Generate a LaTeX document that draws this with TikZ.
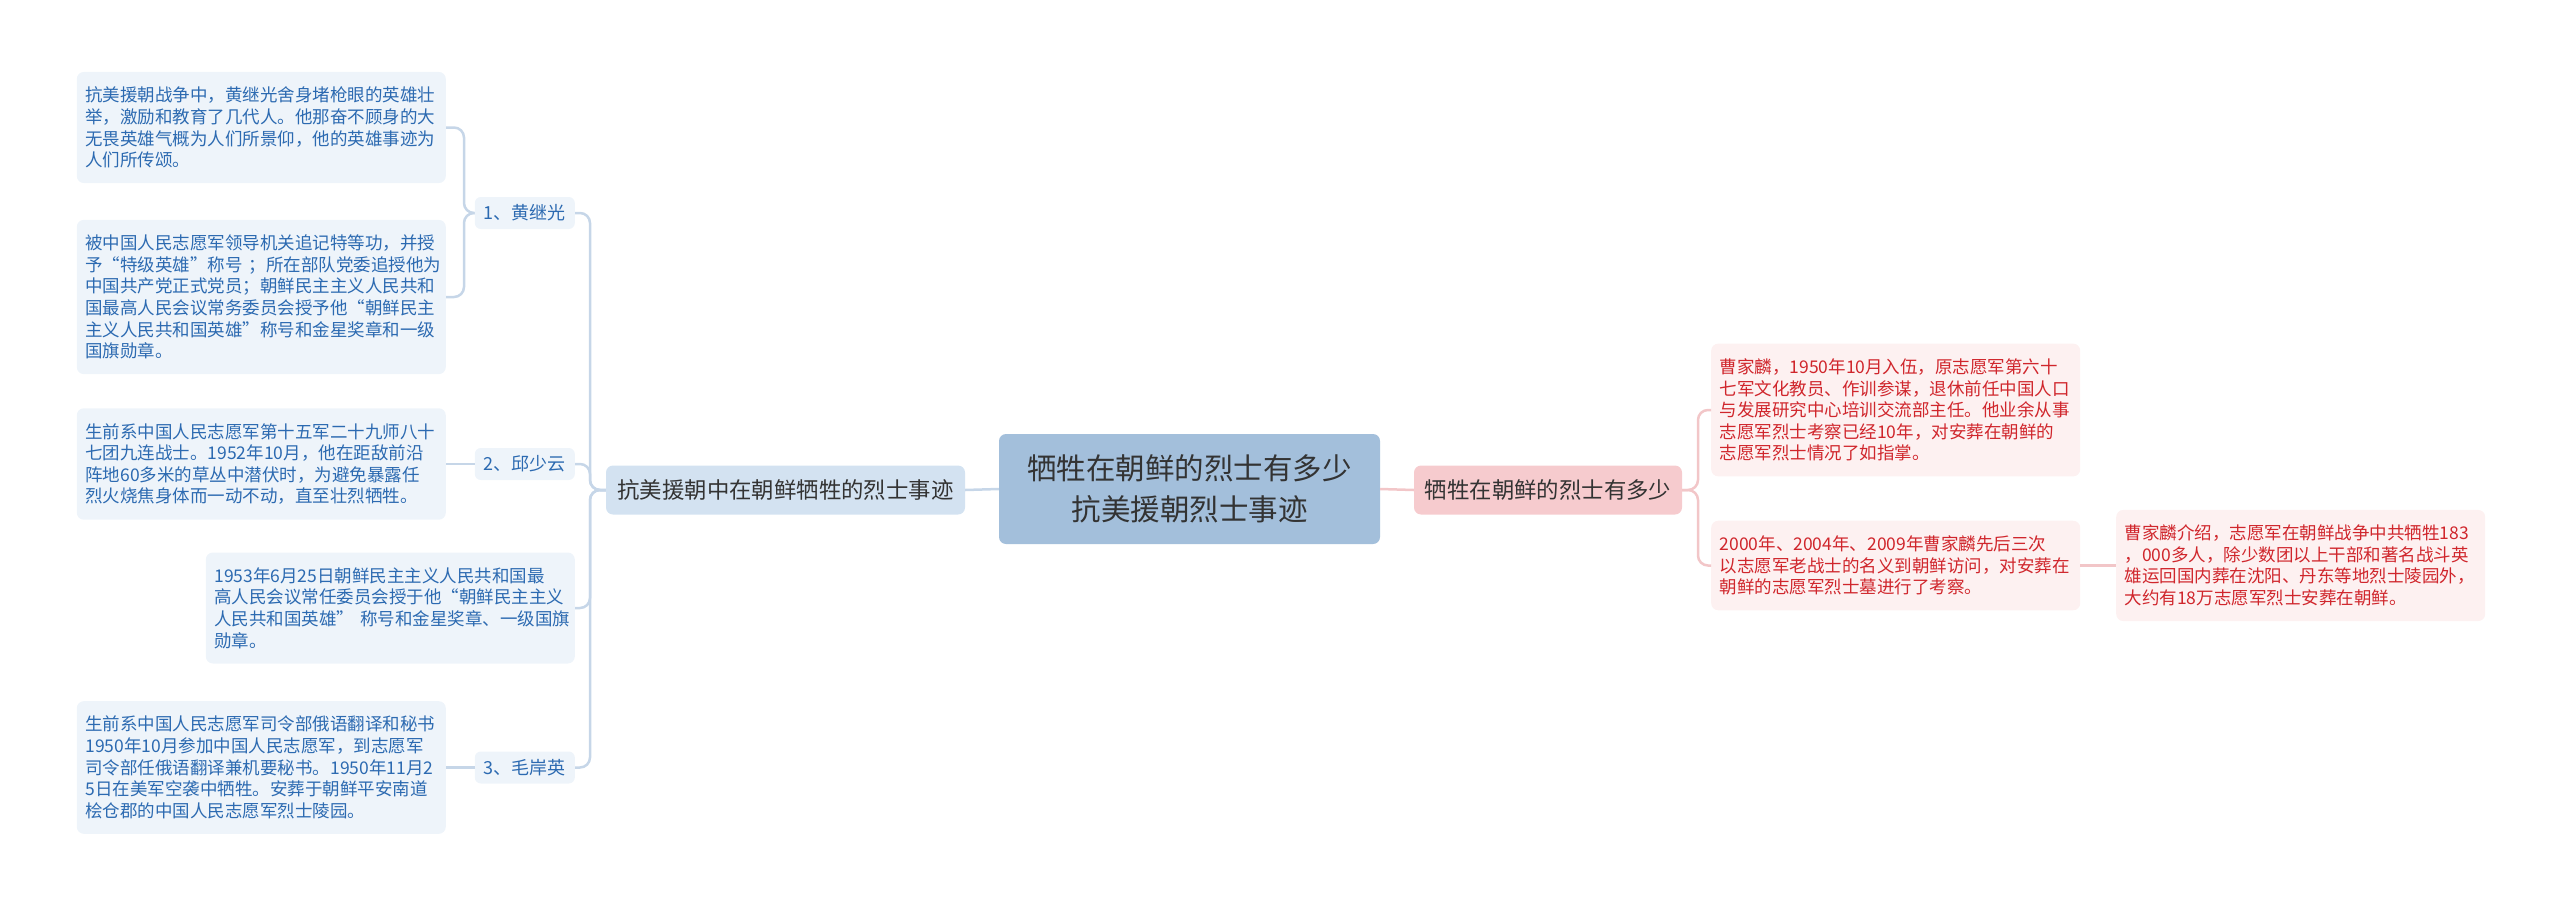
\documentclass[tikz,border=0pt]{standalone}
\usepackage{fontspec}
\setmainfont{Noto Sans CJK SC}
\definecolor{centerfill}{HTML}{A3BFDB}
\definecolor{blfill}{HTML}{D3E2F1}
\definecolor{subfill}{HTML}{EEF4FA}
\definecolor{bluetext}{HTML}{2C6AB1}
\definecolor{blueline}{HTML}{C6D6E8}
\definecolor{brfill}{HTML}{F6CBCE}
\definecolor{redfill}{HTML}{FDF1F1}
\definecolor{redtext}{HTML}{D0262C}
\definecolor{redline}{HTML}{F2C6C8}
\definecolor{darktext}{HTML}{333333}
\begin{document}
\begin{tikzpicture}[x=1pt,y=-1pt,
  every node/.style={inner sep=0pt},
  centerbox/.style={fill=centerfill, rounded corners=7pt, minimum width=381pt, minimum height=110pt, align=center, text=darktext, font=\fontsize{29.5}{41}\selectfont},
  branchbox/.style={rounded corners=7pt, minimum height=49pt, align=center, text=darktext, font=\fontsize{22.4}{28}\selectfont},
  subbox/.style={fill=subfill, rounded corners=6pt, minimum width=100pt, minimum height=32pt, text=bluetext, font=\fontsize{18}{22}\selectfont},
  leafbox/.style={rounded corners=7pt, text width=352pt, inner xsep=8.5pt, inner ysep=15pt, align=left, font=\fontsize{17.5}{21.6}\selectfont},
  leafL/.style={leafbox, fill=subfill, text=bluetext},
  leafR/.style={leafbox, fill=redfill, text=redtext},
  lineL/.style={draw=blueline, line width=2.5pt, rounded corners=10pt},
  lineR/.style={draw=redline, line width=2.5pt, rounded corners=10pt}]
\useasboundingbox (0,0) rectangle (2560,907);

% center and branches
\node[centerbox] (c) at (1189.5,489) {牺牲在朝鲜的烈士有多少\\抗美援朝烈士事迹};
\node[branchbox, fill=blfill, minimum width=359pt] (bl) at (785.5,490) {抗美援朝中在朝鲜牺牲的烈士事迹};
\node[branchbox, fill=brfill, minimum width=268pt] (br) at (1548,490) {牺牲在朝鲜的烈士有多少};

% left level 2
\node[subbox, anchor=east] (h) at (575,213) {1、黄继光};
\node[subbox, anchor=east] (q) at (575,464) {2、邱少云};
\node[subbox, anchor=east] (m) at (575,767.5) {3、毛岸英};

% left leaves
\node[leafL, anchor=east] (h1) at (446,127.5) {抗美援朝战争中，黄继光舍身堵枪眼的英雄壮\\举，激励和教育了几代人。他那奋不顾身的大\\无畏英雄气概为人们所景仰，他的英雄事迹为\\人们所传颂。};
\node[leafL, anchor=east] (h2) at (446,297) {被中国人民志愿军领导机关追记特等功，并授\\予“特级英雄”称号~；所在部队党委追授他为\\中国共产党正式党员；朝鲜民主主义人民共和\\国最高人民会议常务委员会授予他“朝鲜民主\\主义人民共和国英雄”称号和金星奖章和一级\\国旗勋章。};
\node[leafL, anchor=east] (q1) at (446,464) {生前系中国人民志愿军第十五军二十九师八十\\七团九连战士。1952年10月，他在距敌前沿\\阵地60多米的草丛中潜伏时，为避免暴露任\\烈火烧焦身体而一动不动，直至壮烈牺牲。};
\node[leafL, anchor=east] (q2) at (575,608) {1953年6月25日朝鲜民主主义人民共和国最\\高人民会议常任委员会授于他“朝鲜民主主义\\人民共和国英雄”~称号和金星奖章、一级国旗\\勋章。};
\node[leafL, anchor=east] (m1) at (446,767.5) {生前系中国人民志愿军司令部俄语翻译和秘书\\1950年10月参加中国人民志愿军，到志愿军\\司令部任俄语翻译兼机要秘书。1950年11月2\\5日在美军空袭中牺牲。安葬于朝鲜平安南道\\桧仓郡的中国人民志愿军烈士陵园。};

% right leaves
\node[leafR, anchor=west] (r1) at (1711,410) {曹家麟，1950年10月入伍，原志愿军第六十\\七军文化教员、作训参谋，退休前任中国人口\\与发展研究中心培训交流部主任。他业余从事\\志愿军烈士考察已经10年，对安葬在朝鲜的\\志愿军烈士情况了如指掌。};
\node[leafR, anchor=west] (r2) at (1711,565.5) {2000年、2004年、2009年曹家麟先后三次\\以志愿军老战士的名义到朝鲜访问，对安葬在\\朝鲜的志愿军烈士墓进行了考察。};
\node[leafR, anchor=west] (r3) at (2116,565.5) {曹家麟介绍，志愿军在朝鲜战争中共牺牲183\\，000多人，除少数团以上干部和著名战斗英\\雄运回国内葬在沈阳、丹东等地烈士陵园外，\\大约有18万志愿军烈士安葬在朝鲜。};

% junctions
\coordinate (jl) at (590,490);
\coordinate (jh) at (464,213);
\coordinate (jr) at (1698,490);

% connectors
\draw[lineL] (c.west) -- (bl.east);
\draw[lineR] (c.east) -- (br.west);
\draw[lineL] (bl.west) -- (jl) |- (h.east);
\draw[lineL] (bl.west) -- (jl) |- (q.east);
\draw[lineL] (bl.west) -- (jl) |- (q2.east);
\draw[lineL] (bl.west) -- (jl) |- (m.east);
\draw[lineL] (h.west) -- (jh) |- (h1.east);
\draw[lineL] (h.west) -- (jh) |- (h2.east);
\draw[lineL] (q.west) -- (q1.east);
\draw[lineL] (m.west) -- (m1.east);
\draw[lineR] (br.east) -- (jr) |- (r1.west);
\draw[lineR] (br.east) -- (jr) |- (r2.west);
\draw[lineR] (r2.east) -- (r3.west);
\end{tikzpicture}
\end{document}
